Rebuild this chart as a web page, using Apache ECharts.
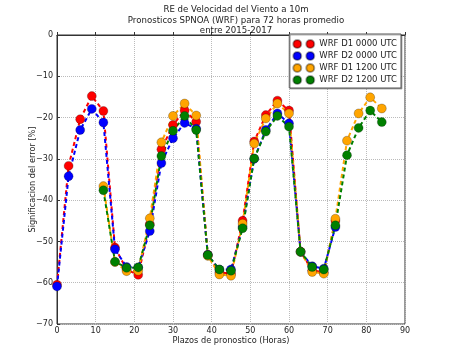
<!DOCTYPE html>
<html>
<head>
<meta charset="utf-8">
<script src="https://cdn.jsdelivr.net/npm/echarts@6/dist/echarts.min.js"></script>
<style>
  html, body { margin: 0; padding: 0; background: #fff; }
  #chart { width: 450px; height: 360px; }
</style>
</head>
<body>
<div id="chart"></div>
<script>
  // plazos (horas) de cada ciclo
  var horas00 = [0, 3, 6, 9, 12, 15, 18, 21, 24, 27, 30, 33, 36, 39, 42, 45, 48, 51, 54, 57, 60, 63, 66, 69, 72]
  var horas12 = [12, 15, 18, 21, 24, 27, 30, 33, 36, 39, 42, 45, 48, 51, 54, 57, 60, 63, 66, 69, 72, 75, 78, 81, 84]

  var d1_00 = [-60.5, -31.7, -20.4, -14.8, -18.4, -51.5, -56.8, -58.1, -45.8, -27.7, -21.8, -18.3, -21,
    -53.2, -57.5, -57.8, -45, -25.8, -19.4, -15.9, -18.3, -52.5, -57, -57.5, -45]
  var d2_00 = [-60.9, -34.2, -23, -17.9, -21.2, -51.9, -56.2, -56.3, -47.5, -31, -25, -21.3, -22.7,
    -53.3, -56.8, -56.8, -46.5, -30, -23, -19, -21.4, -52.5, -56, -56.6, -46.5]
  var d1_12 = [-36.6, -55, -57.2, -57.1, -44.4, -26, -19.6, -16.6, -19.5, -53.5, -58, -58.3, -45.7,
    -26.3, -20.2, -16.6, -19, -52.5, -57.4, -57.8, -44.5, -25.6, -19, -15.1, -17.8]
  var d2_12 = [-37.6, -54.9, -56.4, -56.3, -46.1, -29.3, -23.2, -19.6, -23, -53.3, -56.8, -57.1, -46.8,
    -29.9, -23.4, -19.6, -22.2, -52.5, -56.2, -56.8, -46.1, -29.1, -22.5, -18.3, -21.1]

  var nombres = ['WRF D1 0000 UTC', 'WRF D2 0000 UTC', 'WRF D1 1200 UTC', 'WRF D2 1200 UTC']
  var colores = ['#ff0000', '#0000ff', '#ffa500', '#008000']

  var fuente = 'DejaVu Sans'
  // icono de la leyenda: dos circulos como en matplotlib
  var icono = 'path://M4,0A4,4 0 1,1 4,8A4,4 0 1,1 4,0ZM17,0A4,4 0 1,1 17,8A4,4 0 1,1 17,0Z'

  function pares(xs, ys) {
    return xs.map(function(x, i) { return [x, ys[i]] })
  }

  function serie(i, xs, ys) {
    return {
      name: nombres[i],
      type: 'line',
      data: pares(xs, ys),
      symbol: 'circle',
      symbolSize: 9,
      itemStyle: { color: colores[i], borderColor: 'rgba(0,0,0,0.35)', borderWidth: 0.7 },
      lineStyle: { color: colores[i], width: 2, type: [4, 3] },
      emphasis: { disabled: true },
      animation: false
    }
  }

  var chart = echarts.init(document.getElementById('chart'))
  chart.setOption({
    animation: false,
    title: {
      text: 'RE de Velocidad del Viento a 10m\nPronosticos SPNOA (WRF) para 72 horas promedio\nentre 2015-2017',
      left: 231,
      top: 0,
      textAlign: 'center',
      textStyle: { fontFamily: fuente, fontSize: 8.6, fontWeight: 'normal', color: '#222', lineHeight: 10.3 }
    },
    legend: {
      data: nombres.map(function(n) { return { name: n, icon: icono } }),
      orient: 'vertical',
      right: 49,
      top: 34,
      itemWidth: 21,
      itemHeight: 8,
      itemGap: 2,
      padding: [5, 4, 3, 3],
      backgroundColor: '#fff',
      borderColor: '#555',
      borderWidth: 1,
      shadowColor: 'rgba(0,0,0,0.3)',
      shadowOffsetX: 1,
      shadowOffsetY: 1,
      textStyle: { fontFamily: fuente, fontSize: 8.5, color: '#222', padding: [0, 0, 0, 0] },
      z: 10
    },
    grid: {
      left: 57, right: 45, top: 35, bottom: 36,
      show: true, borderColor: '#333', borderWidth: 1
    },
    xAxis: {
      type: 'value',
      min: 0, max: 90, interval: 10,
      name: 'Plazos de pronostico (Horas)',
      nameLocation: 'middle',
      nameGap: 13,
      nameMoveOverlap: false,
      nameTextStyle: { fontFamily: fuente, fontSize: 8.2, color: '#222' },
      axisLine: { lineStyle: { color: '#333' } },
      axisTick: { inside: true, length: 3, lineStyle: { color: '#333' } },
      axisLabel: { fontFamily: fuente, fontSize: 8, color: '#222', margin: 3 },
      splitLine: { show: true, lineStyle: { color: '#bbb', type: 'dotted' } }
    },
    yAxis: {
      type: 'value',
      min: -70, max: 0, interval: 10,
      name: 'Significacion del error [%]',
      nameLocation: 'middle',
      nameGap: 20,
      nameMoveOverlap: false,
      nameTextStyle: { fontFamily: fuente, fontSize: 8.2, color: '#222' },
      axisLine: { show: true, lineStyle: { color: '#333' } },
      axisTick: { show: true, inside: true, length: 3, lineStyle: { color: '#333' } },
      axisLabel: {
        fontFamily: fuente, fontSize: 8, color: '#222', margin: 4,
        formatter: function(v) { return String(v).replace('-', '\u2212') }
      },
      splitLine: { show: true, lineStyle: { color: '#bbb', type: 'dotted' } }
    },
    series: [
      serie(0, horas00, d1_00),
      serie(1, horas00, d2_00),
      serie(2, horas12, d1_12),
      serie(3, horas12, d2_12)
    ]
  })
</script>
</body>
</html>
